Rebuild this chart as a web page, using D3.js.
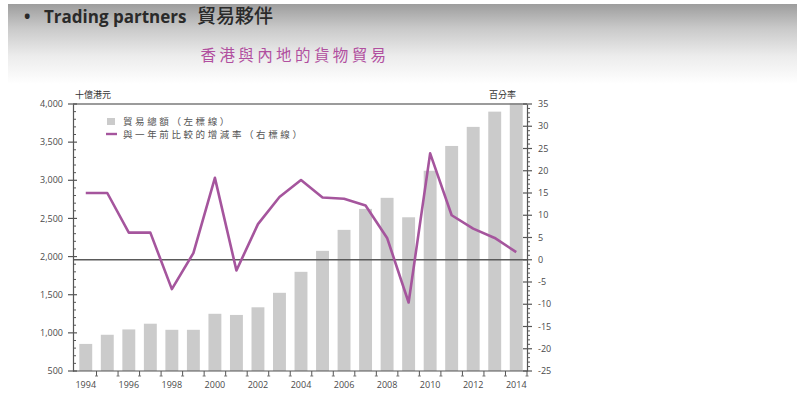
<!DOCTYPE html>
<html>
<head>
<meta charset="utf-8">
<script src="https://cdn.jsdelivr.net/npm/d3@7"></script>
<style>
  html, body { margin: 0; padding: 0; background: #fff; }
  svg { display: block; }
</style>
</head>
<body>
<svg id="chart" width="801" height="405"></svg>
<script>
// Hong Kong – Mainland merchandise trade, 1994–2014
const years = [1994, 1995, 1996, 1997, 1998, 1999, 2000, 2001, 2002, 2003, 2004,
               2005, 2006, 2007, 2008, 2009, 2010, 2011, 2012, 2013, 2014];
// total trade, HK$ billion (left axis)
const tradeTotal = [855, 975, 1045, 1120, 1040, 1040, 1250, 1235, 1335, 1525, 1800,
                    2075, 2350, 2625, 2770, 2515, 3125, 3450, 3700, 3900, 4010];
// year-on-year change, % (right axis)
const yoyChange = [15.0, 15.0, 6.1, 6.1, -6.6, 1.5, 18.4, -2.4, 8.0, 14.1, 17.9,
                   14.0, 13.7, 12.2, 4.9, -9.6, 23.9, 10.0, 7.0, 4.9, 1.7];
const leftTicks = [500, 1000, 1500, 2000, 2500, 3000, 3500, 4000];
const rightTicks = [-25, -20, -15, -10, -5, 0, 5, 10, 15, 20, 25, 30, 35];
const yearLabels = [1994, 1996, 1998, 2000, 2002, 2004, 2006, 2008, 2010, 2012, 2014];

const svg = d3.select("#chart");

// slide header background
const defs = svg.append("defs");
const grad = defs.append("linearGradient").attr("id", "hdr")
  .attr("x1", 0).attr("y1", 0).attr("x2", 0).attr("y2", 1);
grad.append("stop").attr("offset", 0).attr("stop-color", "#9d9d9d");
grad.append("stop").attr("offset", 0.3).attr("stop-color", "#c9c9c9");
grad.append("stop").attr("offset", 0.65).attr("stop-color", "#ececec");
grad.append("stop").attr("offset", 1).attr("stop-color", "#ffffff");
svg.append("rect").attr("x", 8).attr("y", 4).attr("width", 789).attr("height", 80)
  .attr("fill", "url(#hdr)");

const cjk = "'Noto Sans CJK TC', 'Noto Sans CJK SC', sans-serif";

svg.append("text").attr("x", 24).attr("y", 23)
  .attr("font-family", "'Open Sans', sans-serif").attr("font-weight", 700)
  .attr("font-size", 17).attr("fill", "#2a2a2a").text("•");
const head = svg.append("text").attr("x", 44).attr("y", 23)
  .attr("font-family", "'Open Sans', sans-serif").attr("font-weight", 700)
  .attr("font-size", 17).attr("fill", "#2a2a2a");
head.append("tspan").text("Trading partners ");
head.append("tspan").attr("font-family", cjk).attr("font-size", 19).attr("font-weight", 500)
  .attr("dx", 6).text("貿易夥伴");

svg.append("text").attr("x", 295).attr("y", 61).attr("text-anchor", "middle")
  .attr("font-family", cjk).attr("font-size", 15.5).attr("letter-spacing", 3.4)
  .attr("fill", "#b14f9f").text("香港與內地的貨物貿易");

// plot area
const x0 = 73, x1 = 527, yTop = 104, yBot = 371;

const x = d3.scaleBand().domain(years).range([x0 + 2, x1]).paddingInner(0.4).paddingOuter(0.2);
const yL = d3.scaleLinear().domain([500, 4000]).range([yBot, yTop]);
const yR = d3.scaleLinear().domain([-25, 35]).range([yBot, yTop]);
const cx = d => x(d) + x.bandwidth() / 2;

// bars
svg.append("g").selectAll("rect").data(years).join("rect")
  .attr("x", d => x(d))
  .attr("width", x.bandwidth())
  .attr("y", (d, i) => yL(tradeTotal[i]))
  .attr("height", (d, i) => yBot - yL(tradeTotal[i]))
  .attr("fill", "#cbcbcb");

// frame: top rule and zero line
svg.append("line").attr("x1", x0).attr("x2", x1).attr("y1", yTop).attr("y2", yTop)
  .attr("stroke", "#7a7a7a").attr("stroke-width", 1.5);
svg.append("line").attr("x1", x0).attr("x2", x1).attr("y1", yR(0)).attr("y2", yR(0))
  .attr("stroke", "#5a5a5a").attr("stroke-width", 1.5);

// growth line
const line = d3.line().x((d, i) => cx(years[i])).y(d => yR(d));
svg.append("path").datum(yoyChange).attr("d", line)
  .attr("fill", "none").attr("stroke", "#a5559d").attr("stroke-width", 2.6)
  .attr("stroke-linejoin", "round");

const tickFont = "'Open Sans', sans-serif";

// left axis
const gL = svg.append("g").attr("transform", `translate(${x0},0)`);
gL.call(d3.axisLeft(yL).tickValues(leftTicks).tickSize(0).tickFormat(""));
gL.select(".domain").attr("stroke", "#555").attr("stroke-width", 1.2);
gL.selectAll(".tick line").remove();
gL.selectAll("line.minor").data(d3.range(600, 4000, 100).filter(v => v % 500 !== 0)).join("line")
  .attr("class", "minor")
  .attr("x1", 0).attr("x2", 3).attr("y1", d => yL(d)).attr("y2", d => yL(d))
  .attr("stroke", "#555");
gL.selectAll("line.major").data(leftTicks).join("line")
  .attr("class", "major")
  .attr("x1", -5).attr("x2", 4).attr("y1", d => yL(d)).attr("y2", d => yL(d))
  .attr("stroke", "#555").attr("stroke-width", 1.2);
gL.selectAll("text.lab").data(leftTicks).join("text")
  .attr("class", "lab")
  .attr("x", -10).attr("y", d => yL(d)).attr("dy", "0.35em").attr("text-anchor", "end")
  .attr("font-family", tickFont).attr("font-size", 9).attr("fill", "#4a4a4a")
  .text(d => d3.format(",")(d));

// right axis
const gR = svg.append("g").attr("transform", `translate(${x1},0)`);
gR.call(d3.axisRight(yR).tickValues(rightTicks).tickSize(0).tickFormat(""));
gR.select(".domain").attr("stroke", "#555").attr("stroke-width", 1.2);
gR.selectAll(".tick line").remove();
gR.selectAll("line.minor").data(d3.range(-24, 35, 1).filter(v => v % 5 !== 0)).join("line")
  .attr("class", "minor")
  .attr("x1", 0).attr("x2", 3).attr("y1", d => yR(d)).attr("y2", d => yR(d))
  .attr("stroke", "#555");
gR.selectAll("line.major").data(rightTicks).join("line")
  .attr("class", "major")
  .attr("x1", -4).attr("x2", 5).attr("y1", d => yR(d)).attr("y2", d => yR(d))
  .attr("stroke", "#555").attr("stroke-width", 1.2);
gR.selectAll("text.lab").data(rightTicks).join("text")
  .attr("class", "lab")
  .attr("x", 11).attr("y", d => yR(d)).attr("dy", "0.35em").attr("text-anchor", "start")
  .attr("font-family", tickFont).attr("font-size", 9).attr("fill", "#4a4a4a")
  .text(d => d);

// bottom axis: ticks between the bars, labels on even years
const gB = svg.append("g").attr("transform", `translate(0,${yBot})`);
gB.append("line").attr("x1", x0).attr("x2", x1).attr("y1", 0).attr("y2", 0)
  .attr("stroke", "#555").attr("stroke-width", 1.2);
const step = x.step();
const bounds = years.slice(1).map(y => x(y) - (step - x.bandwidth()) / 2).concat([x1]);
gB.selectAll("line.t").data(bounds).join("line")
  .attr("class", "t")
  .attr("x1", d => d).attr("x2", d => d).attr("y1", 0).attr("y2", 5)
  .attr("stroke", "#555");
gB.selectAll("line.c").data(bounds).join("line")
  .attr("class", "c")
  .attr("x1", d => d - 1.5).attr("x2", d => d + 1.5).attr("y1", 5).attr("y2", 5)
  .attr("stroke", "#777");
gB.selectAll("text").data(yearLabels).join("text")
  .attr("x", d => cx(d)).attr("y", 17).attr("text-anchor", "middle")
  .attr("font-family", tickFont).attr("font-size", 9).attr("fill", "#4a4a4a")
  .text(d => d);

// axis units
svg.append("text").attr("x", 75).attr("y", 98)
  .attr("font-family", cjk).attr("font-size", 9).attr("fill", "#333").text("十億港元");
svg.append("text").attr("x", 516).attr("y", 98).attr("text-anchor", "end")
  .attr("font-family", cjk).attr("font-size", 9).attr("fill", "#333").text("百分率");

// legend
const lg = svg.append("g").attr("font-family", cjk).attr("font-size", 9.5).attr("fill", "#555");
lg.append("rect").attr("x", 107).attr("y", 118).attr("width", 8).attr("height", 7).attr("fill", "#cbcbcb");
lg.append("text").attr("x", 123).attr("y", 125).attr("letter-spacing", 2.6).text("貿易總額（左標線）");
lg.append("line").attr("x1", 106).attr("x2", 117).attr("y1", 134).attr("y2", 134)
  .attr("stroke", "#a5559d").attr("stroke-width", 2.4);
lg.append("text").attr("x", 123).attr("y", 137.5).attr("letter-spacing", 2.6).text("與一年前比較的增減率（右標線）");
</script>
</body>
</html>
